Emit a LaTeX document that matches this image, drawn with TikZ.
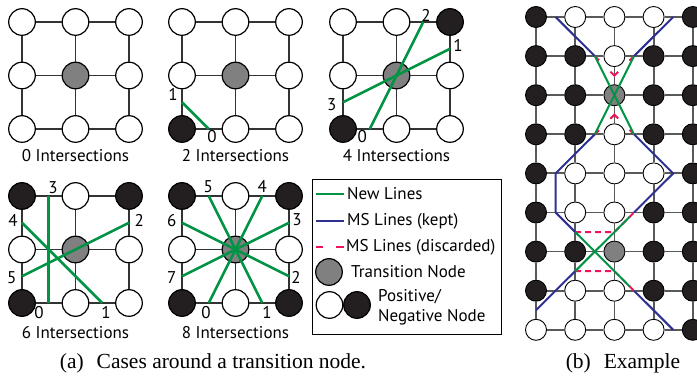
\documentclass[tikz,border=0pt]{standalone}
\usepackage{fontspec}
\setmainfont{Liberation Serif}
\setsansfont{PT Sans}
\definecolor{newgreen}{RGB}{0,148,68}
\definecolor{msblue}{RGB}{46,49,146}
\definecolor{msred}{RGB}{237,20,91}
\definecolor{transgray}{RGB}{128,128,128}
\definecolor{negblack}{RGB}{35,31,32}
\tikzset{
  pnode/.style={circle, draw=black, fill=white, inner sep=0pt, minimum size=26.6pt, line width=1.2pt},
  nnode/.style={pnode, fill=negblack},
  tnode/.style={pnode, fill=transgray},
  bsize/.style={minimum size=21pt, line width=0.9pt},
  gridline/.style={line width=1.6pt, draw=black!80},
  bgridline/.style={line width=1.8pt, draw=black!65},
  newline/.style={newgreen, line width=2.6pt},
  keptline/.style={msblue, line width=2pt},
  dropline/.style={msred, line width=2pt, dash pattern=on 6pt off 4pt},
  num/.style={font=\sffamily\fontsize{17}{19}\selectfont, inner sep=0pt},
  legtext/.style={font=\sffamily\fontsize{17}{20}\selectfont, inner sep=0pt, anchor=west, align=left},
  caption/.style={font=\fontsize{21.5}{25}\selectfont, inner sep=0pt},
}
% 3x3 neighbourhood: #1 name, #2 rows of node styles
\newcommand{\casegrid}[2]{%
  \foreach \row [count=\rw from 0] in {#2}
    \foreach \k [count=\col from 0] in \row
      \node[\k] (#1-\col-\rw) at (\col,\rw) {};
  \foreach \i/\j in {0/1,1/2}
    \foreach \m in {0,1,2} {
      \draw[gridline] (#1-\i-\m) -- (#1-\j-\m);
      \draw[gridline] (#1-\m-\i) -- (#1-\m-\j);
    }
}
\begin{document}
\begin{tikzpicture}[x=1pt, y=-1pt]
\useasboundingbox (0,0) rectangle (697,387);

% (a) cases
\begin{scope}[shift={(22,22)}, x=53.5pt, y=-53.5pt]
\casegrid{p0}{{pnode,pnode,pnode},{pnode,tnode,pnode},{pnode,pnode,pnode}}
\node[num] (p0-title) at (1,2.5) {0 Intersections};
\end{scope}

\begin{scope}[shift={(182,22)}, x=53.5pt, y=-53.5pt]
\casegrid{p2}{{pnode,pnode,pnode},{pnode,tnode,pnode},{nnode,pnode,pnode}}
\draw[newline] (0,1.5) -- (0.5,2);
\node[num] (p2-l1) at (-0.17,1.36) {1};
\node[num] (p2-l0) at (0.56,2.14) {0};
\node[num] (p2-title) at (1,2.5) {2 Intersections};
\end{scope}

\begin{scope}[shift={(343,22)}, x=53.5pt, y=-53.5pt]
\casegrid{p4}{{pnode,pnode,nnode},{pnode,tnode,pnode},{nnode,pnode,pnode}}
\draw[newline] (0.5,2) -- (1.5,0);
\draw[newline] (0,1.5) -- (2,0.5);
\node[num] (p4-l0) at (0.36,2.14) {0};
\node[num] (p4-l1) at (2.15,0.43) {1};
\node[num] (p4-l2) at (1.55,-0.13) {2};
\node[num] (p4-l3) at (-0.21,1.55) {3};
\node[num] (p4-title) at (1,2.5) {4 Intersections};
\end{scope}

\begin{scope}[shift={(22,196)}, x=53.5pt, y=-53.5pt]
\casegrid{p6}{{nnode,pnode,nnode},{pnode,tnode,pnode},{nnode,pnode,pnode}}
\draw[newline] (0.5,0) -- (0.5,2);
\draw[newline] (0,0.5) -- (1.5,2);
\draw[newline] (0,1.5) -- (2,0.5);
\node[num] (p6-l0) at (0.32,2.17) {0};
\node[num] (p6-l1) at (1.57,2.17) {1};
\node[num] (p6-l2) at (2.19,0.45) {2};
\node[num] (p6-l3) at (0.58,-0.15) {3};
\node[num] (p6-l4) at (-0.17,0.45) {4};
\node[num] (p6-l5) at (-0.19,1.53) {5};
\node[num] (p6-title) at (1,2.55) {6 Intersections};
\end{scope}

\begin{scope}[shift={(182,196)}, x=53.5pt, y=-53.5pt]
\casegrid{p8}{{nnode,pnode,nnode},{pnode,tnode,pnode},{nnode,pnode,nnode}}
\draw[newline] (0.5,2) -- (1.5,0);
\draw[newline] (1.5,2) -- (0.5,0);
\draw[newline] (2,1.5) -- (0,0.5);
\draw[newline] (2,0.5) -- (0,1.5);
\node[num] (p8-l0) at (0.45,2.17) {0};
\node[num] (p8-l1) at (1.59,2.17) {1};
\node[num] (p8-l2) at (2.13,1.53) {2};
\node[num] (p8-l3) at (2.15,0.45) {3};
\node[num] (p8-l4) at (1.5,-0.17) {4};
\node[num] (p8-l5) at (0.49,-0.17) {5};
\node[num] (p8-l6) at (-0.19,0.45) {6};
\node[num] (p8-l7) at (-0.19,1.53) {7};
\node[num] (p8-title) at (1,2.55) {8 Intersections};
\end{scope}

% legend
\draw[line width=1pt] (312,180) rectangle (501,335);
\draw[newline, line width=2pt] (316,194) -- (344,194);
\node[legtext] (lg-new) at (347,194) {New Lines};
\draw[keptline] (316,221) -- (344,221);
\node[legtext] (lg-kept) at (347,221) {MS Lines (kept)};
\draw[dropline, dash pattern=on 7pt off 13pt on 8pt] (316,247) -- (344,247);
\node[legtext] (lg-drop) at (346,247) {MS Lines (discarded)};
\node[tnode] (lg-t) at (329,272) {};
\node[legtext] (lg-trans) at (351,272) {Transition Node};
\node[pnode] (lg-p) at (329.5,305) {};
\node[nnode] (lg-n) at (357,305) {};
\node[legtext] (lg-pn) at (378,307) {Positive/\\Negative Node};

% (b) example
\begin{scope}[shift={(536,17)}, x=39.2pt, y=-39.1pt]
\foreach \row [count=\rw from 0] in {
  {nnode,pnode,pnode,pnode,nnode},
  {nnode,nnode,pnode,nnode,nnode},
  {nnode,nnode,tnode,nnode,nnode},
  {nnode,nnode,pnode,nnode,nnode},
  {nnode,pnode,pnode,pnode,nnode},
  {nnode,pnode,pnode,nnode,nnode},
  {nnode,nnode,tnode,nnode,nnode},
  {nnode,pnode,pnode,nnode,nnode},
  {pnode,pnode,pnode,pnode,nnode}}
  \foreach \k [count=\col from 0] in \row
    \node[\k, bsize] (b-\col-\rw) at (\col,\rw) {};
\foreach \col [evaluate=\col as \nc using int(\col+1)] in {0,...,3}
  \foreach \rw in {0,...,8}
    \draw[bgridline] (b-\col-\rw) -- (b-\nc-\rw);
\foreach \rw [evaluate=\rw as \nr using int(\rw+1)] in {0,...,7}
  \foreach \col in {0,...,4}
    \draw[bgridline] (b-\col-\rw) -- (b-\col-\nr);

\draw[dropline, dash pattern=on 6pt off 16pt on 11pt off 16pt on 6pt] (1.5,1) -- (2,1.5) -- (2.5,1);
\draw[dropline, dash pattern=on 6pt off 16pt on 11pt off 16pt on 6pt] (1.5,3) -- (2,2.5) -- (2.5,3);
\draw[dropline] (1,5.5) -- (2,5.5) -- (2.5,5);
\draw[dropline] (1,6.5) -- (2,6.5) -- (2.5,7);

\draw[keptline] (0.5,0) -- (1.5,1);
\draw[keptline] (3.5,0) -- (2.5,1);
\draw[keptline] (1.5,3) -- (0.5,4) -- (0.5,5) -- (1,5.5);
\draw[keptline] (2.5,3) -- (3.5,4) -- (2.5,5);
\draw[keptline] (1,6.5) -- (0,7.5);
\draw[keptline] (2.5,7) -- (3.5,8);

\draw[newline, line width=2pt] (1.5,1) -- (2.5,3);
\draw[newline, line width=2pt] (2.5,1) -- (1.5,3);
\draw[newline, line width=2pt, shorten >=6pt] (1,5.5) -- (2.5,7);
\draw[newline, line width=2pt, shorten >=6pt] (1,6.5) -- (2.5,5);
\end{scope}

\node[caption] (cap-a) at (213,363) {(a)\hspace{0.6em}Cases around a transition node.};
\node[caption] (cap-b) at (623,363) {(b)\hspace{0.6em}Example};
\end{tikzpicture}
\end{document}
